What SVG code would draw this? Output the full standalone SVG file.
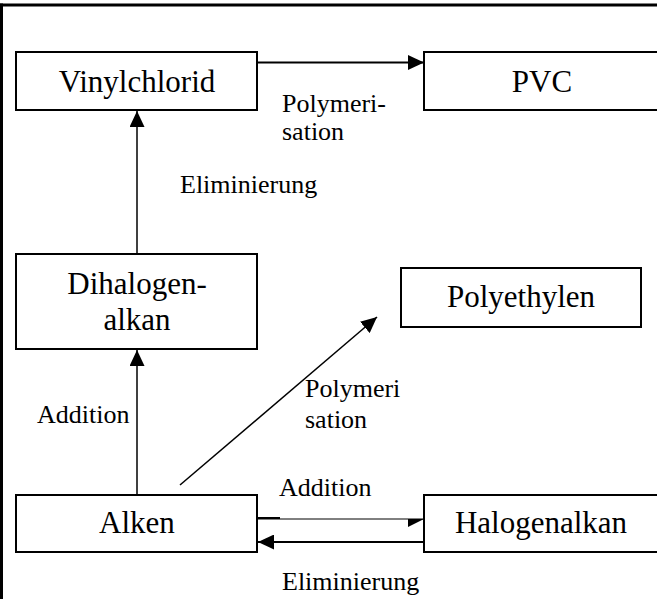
<svg xmlns="http://www.w3.org/2000/svg" width="657" height="599" viewBox="0 0 657 599">
<style>
.box{fill:#fff;stroke:#000;stroke-width:2}
text{font-family:'Liberation Serif','Tinos','DejaVu Serif',serif;fill:#000}
.nt{font-size:31px;text-anchor:middle}
.lt{font-size:26px}
.ln{stroke:#000;fill:none}
</style>
<defs>
<marker id="ah" markerWidth="16" markerHeight="15" refX="16" refY="7.5" orient="auto" markerUnits="userSpaceOnUse">
<path d="M0,0 L16,7.5 L0,15 Z" fill="#000"/>
</marker>
</defs>
<rect width="657" height="599" fill="#fff"/>
<g id="frame">
<line x1="1.5" y1="3.5" x2="1.5" y2="599" stroke="#000" stroke-width="3"/>
<line x1="0" y1="5" x2="657" y2="5" stroke="#000" stroke-width="3"/>
</g>
<g id="connectors">
<line class="ln" x1="257" y1="62.5" x2="424" y2="62.5" stroke-width="2" marker-end="url(#ah)"/>
<line class="ln" x1="137" y1="254" x2="137" y2="111" stroke-width="1.5" marker-end="url(#ah)"/>
<line class="ln" x1="137" y1="495" x2="137" y2="350" stroke-width="1.5" marker-end="url(#ah)"/>
<line class="ln" x1="180" y1="485" x2="377" y2="317" stroke-width="1.5" marker-end="url(#ah)"/>
<line class="ln" x1="257" y1="519" x2="424" y2="519" stroke-width="1"/>
<line class="ln" x1="257" y1="518" x2="280" y2="518" stroke-width="2"/>
<polygon points="424,519 408,519 408,527" fill="#000"/>
<line class="ln" x1="424" y1="542" x2="258" y2="542" stroke-width="2" marker-end="url(#ah)"/>
</g>
<g id="vinylchlorid">
<rect class="box" x="16" y="52" width="241" height="58"/>
<text class="nt" x="137" y="92" font-family="Liberation Serif, serif">Vinylchlorid</text>
</g>
<g id="pvc">
<rect class="box" x="424" y="52" width="240" height="58"/>
<text class="nt" x="542" y="92" font-family="Liberation Serif, serif">PVC</text>
</g>
<g id="dihalogenalkan">
<rect class="box" x="16" y="254" width="241" height="95"/>
<text class="nt" x="137" y="294" font-family="Liberation Serif, serif">Dihalogen-</text>
<text class="nt" x="137" y="330" font-family="Liberation Serif, serif">alkan</text>
</g>
<g id="polyethylen">
<rect class="box" x="401" y="268" width="240" height="59"/>
<text class="nt" x="521" y="307" font-family="Liberation Serif, serif">Polyethylen</text>
</g>
<g id="alken">
<rect class="box" x="16" y="495" width="241" height="57"/>
<text class="nt" x="137" y="533" font-family="Liberation Serif, serif">Alken</text>
</g>
<g id="halogenalkan">
<rect class="box" x="424" y="495" width="240" height="57"/>
<text class="nt" x="541" y="533" font-family="Liberation Serif, serif">Halogenalkan</text>
</g>
<g id="labels" font-family="Liberation Serif, serif">
<text class="lt" x="282" y="112">Polymeri-</text>
<text class="lt" x="282" y="140">sation</text>
<text class="lt" x="180" y="193">Eliminierung</text>
<text class="lt" x="37" y="423">Addition</text>
<text class="lt" x="305" y="397">Polymeri</text>
<text class="lt" x="305" y="428">sation</text>
<text class="lt" x="279" y="496">Addition</text>
<text class="lt" x="282" y="590">Eliminierung</text>
</g>
</svg>
